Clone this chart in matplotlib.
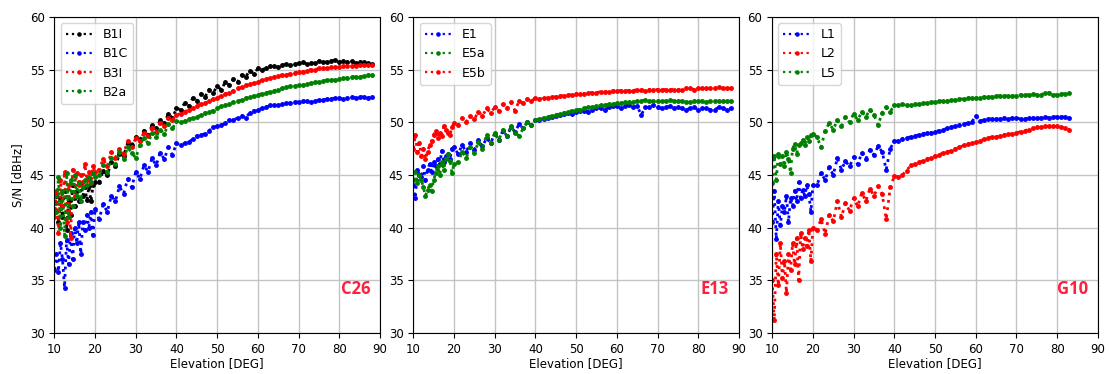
import matplotlib
matplotlib.use("Agg")
import matplotlib.pyplot as plt

# elevation grids [deg]: half-degree steps at low elevation where the noise is large
elev_fine = [10, 10.5, 11, 11.5, 12, 12.5, 13, 13.5, 14, 14.5, 15, 15.5, 16, 16.5,
             17, 17.5, 18, 18.5, 19, 19.5, 20]
elev_c26 = elev_fine + list(range(21, 89))
elev_e13 = elev_c26
elev_g10 = elev_fine + list(range(21, 84))

# C26 (BeiDou) S/N [dBHz]
b1i = [41.5, 43.0, 40.5, 42.8, 41.0, 43.5, 39.8, 42.5, 41.2, 44.0, 42.0, 43.5, 42.5, 44.2,
       43.0, 43.8, 42.6, 43.9, 42.5, 44.0, 44.3,
       44.3, 45.4, 45.0, 46.2, 45.8, 47.0, 46.8, 48.0, 47.8, 48.6, 48.3, 49.2, 48.8, 49.7,
       49.4, 50.2, 49.9, 50.8, 50.4, 51.3,
       51.2, 51.8, 51.5, 52.3, 52.0, 52.7, 52.4, 53.1, 52.8, 53.4, 53.1, 53.8, 53.5, 54.1,
       53.8, 54.5, 54.3, 54.9, 54.6, 55.1, 55.0, 55.1, 55.3, 55.3, 55.2, 55.4, 55.5, 55.4,
       55.5, 55.6, 55.7, 55.5, 55.6, 55.6, 55.8, 55.7, 55.7, 55.8, 55.9, 55.7, 55.8, 55.7,
       55.8, 55.6, 55.7, 55.7, 55.6, 55.5]
b1c = [36.0, 37.5, 35.8, 38.5, 37.0, 34.3, 38.8, 36.5, 39.5, 37.0, 40.0, 38.5, 40.5, 37.5,
       40.5, 39.8, 41.2, 40.0, 41.5, 39.3, 41.8,
       40.8, 42.2, 41.5, 43.0, 42.5, 43.9, 43.2, 44.6, 43.8, 45.3, 44.6, 45.9, 45.3, 46.6,
       45.9, 47.1, 46.5, 47.6, 46.9, 48.0,
       47.8, 48.0, 48.1, 48.4, 48.7, 48.8, 48.9, 49.2, 49.5, 49.6, 49.7, 49.9, 50.2, 50.2,
       50.4, 50.6, 50.4, 50.9, 51.1, 51.2, 51.3, 51.4, 51.6, 51.6, 51.6, 51.7, 51.8, 51.8,
       51.9, 51.9, 52.0, 52.0, 51.9, 52.0, 52.1, 52.1, 52.2, 52.2, 52.3, 52.3, 52.2, 52.3,
       52.4, 52.3, 52.4, 52.4, 52.3, 52.4]
b3i = [41.0, 43.5, 39.5, 44.5, 42.0, 45.3, 40.5, 44.0, 39.0, 45.5, 43.0, 45.2, 44.0, 45.0,
       44.3, 46.0, 44.5, 45.3, 44.2, 45.8, 45.3,
       45.5, 46.5, 45.8, 47.2, 46.6, 47.5, 47.0, 48.2, 47.6, 48.5, 48.2, 49.0, 48.7, 49.4,
       49.1, 49.9, 49.6, 50.4, 50.2, 50.7,
       50.8, 51.0, 51.2, 51.3, 51.5, 51.7, 51.8, 52.0, 52.2, 52.3, 52.5, 52.7, 52.8, 53.0,
       53.2, 53.3, 53.5, 53.6, 53.7, 53.8, 54.0, 54.1, 54.2, 54.3, 54.4, 54.5, 54.5, 54.6,
       54.7, 54.8, 54.8, 54.9, 55.0, 55.0, 55.1, 55.1, 55.1, 55.2, 55.2, 55.2, 55.3, 55.3,
       55.3, 55.3, 55.4, 55.4, 55.4, 55.4]
b2a = [43.0, 41.5, 44.8, 40.0, 43.5, 39.2, 45.2, 41.0, 44.5, 42.0, 45.0, 43.0, 44.2, 42.5,
       43.8, 44.5, 44.0, 44.8, 44.3, 45.2, 44.8,
       45.0, 45.9, 45.3, 46.6, 46.0, 47.2, 46.5, 47.6, 47.1, 46.6, 47.8, 48.5, 48.0, 49.0,
       48.6, 49.3, 48.9, 49.8, 49.4, 50.1,
       50.0, 50.1, 50.3, 50.4, 50.5, 50.7, 50.9, 51.0, 51.1, 51.3, 51.5, 51.6, 51.7, 51.9,
       52.0, 52.1, 52.3, 52.4, 52.5, 52.6, 52.7, 52.8, 52.9, 53.0, 53.1, 53.2, 53.3, 53.4,
       53.4, 53.5, 53.5, 53.6, 53.7, 53.8, 53.8, 53.9, 54.0, 54.0, 54.0, 54.1, 54.2, 54.2,
       54.3, 54.3, 54.3, 54.4, 54.5, 54.5]

# E13 (Galileo)
e1 = [44.0, 42.8, 45.5, 45.0, 44.8, 45.8, 44.5, 45.5, 46.0, 45.3, 46.2, 45.8, 46.5, 46.0,
      47.3, 46.2, 46.8, 47.0, 46.5, 47.5, 47.6,
      47.0, 47.8, 47.2, 48.0, 47.4, 48.3, 47.7, 48.5, 48.0, 48.9, 48.3, 49.2, 48.7, 49.5,
      49.1, 49.8, 49.4, 50.0, 49.7, 50.2,
      50.2, 50.3, 50.4, 50.5, 50.6, 50.7, 50.8, 50.9, 50.8, 51.0, 51.1, 51.1, 51.0, 51.2,
      51.3, 51.3, 51.2, 51.4, 51.5, 51.5, 51.3, 51.5, 51.6, 51.4, 51.5, 50.7, 51.4, 51.4,
      51.6, 51.4, 51.3, 51.4, 51.5, 51.3, 51.4, 51.3, 51.2, 51.3, 51.4, 51.2, 51.3, 51.3,
      51.2, 51.2, 51.4, 51.3, 51.2, 51.3]
e5a = [44.5, 45.3, 44.2, 45.0, 44.5, 43.8, 43.0, 43.6, 44.0, 43.5, 44.5, 45.2, 45.8, 45.0,
       46.2, 45.5, 46.5, 47.0, 46.3, 45.2, 46.0,
       46.2, 47.2, 46.6, 47.6, 47.1, 48.1, 47.5, 48.8, 48.0, 49.0, 48.3, 49.3, 48.7, 49.6,
       49.0, 48.7, 49.4, 50.0, 49.7, 50.2,
       50.3, 50.4, 50.5, 50.6, 50.7, 50.8, 50.9, 51.0, 51.1, 51.2, 51.2, 51.3, 51.4, 51.4,
       51.5, 51.6, 51.6, 51.7, 51.7, 51.8, 51.8, 51.9, 51.9, 51.9, 52.0, 52.0, 52.1, 52.0,
       52.0, 52.0, 52.0, 52.0, 52.1, 52.0, 52.0, 52.0, 51.9, 51.9, 52.0, 52.0, 52.0, 51.9,
       52.0, 52.0, 52.0, 52.0, 52.0, 52.0]
e5b = [47.5, 48.8, 47.2, 48.0, 46.8, 47.5, 46.5, 47.2, 47.8, 48.2, 48.8, 49.2, 48.5, 49.0,
       48.7, 49.6, 49.3, 49.0, 48.8, 49.5, 49.9,
       49.7, 50.4, 50.0, 50.6, 50.3, 51.0, 50.6, 51.3, 50.9, 51.4, 51.1, 51.7, 51.3, 51.9,
       51.1, 52.0, 51.8, 52.2, 52.0, 52.3,
       52.2, 52.3, 52.3, 52.4, 52.4, 52.5, 52.5, 52.6, 52.6, 52.7, 52.7, 52.7, 52.8, 52.8,
       52.8, 52.9, 52.9, 52.9, 53.0, 53.0, 53.0, 53.0, 53.0, 53.0, 53.1, 53.1, 53.0, 53.1,
       53.1, 53.1, 53.1, 53.1, 53.1, 53.1, 53.1, 53.1, 53.2, 53.2, 53.1, 53.2, 53.2, 53.2,
       53.2, 53.2, 53.3, 53.2, 53.2, 53.2]

# G10 (GPS)
l1 = [40.5, 43.5, 38.9, 42.5, 40.2, 42.0, 41.5, 43.0, 40.5, 42.8, 42.0, 43.5, 42.5, 44.3,
      42.8, 43.6, 43.0, 44.0, 43.2, 41.5, 44.0,
      44.0, 45.2, 44.5, 45.7, 45.0, 46.6, 45.5, 46.3, 45.8, 46.7, 46.0, 47.1, 46.5, 47.4,
      46.9, 47.7, 47.2, 45.5, 47.5, 48.2,
      48.2, 48.4, 48.5, 48.6, 48.7, 48.8, 48.9, 49.0, 49.0, 49.1, 49.2, 49.3, 49.4, 49.5,
      49.6, 49.7, 49.8, 49.9, 50.0, 50.6, 50.1, 50.2, 50.3, 50.3, 50.3, 50.3, 50.4, 50.3,
      50.4, 50.4, 50.3, 50.3, 50.4, 50.4, 50.4, 50.4, 50.5, 50.4, 50.5, 50.5, 50.5, 50.5,
      50.4]
l2 = [35.0, 31.2, 37.5, 34.5, 38.5, 35.2, 36.8, 33.8, 37.5, 36.0, 38.5, 36.5, 39.0, 35.0,
      39.5, 38.0, 39.0, 38.2, 39.8, 36.8, 40.0,
      39.8, 40.8, 39.4, 41.2, 40.6, 42.5, 41.0, 42.3, 41.6, 42.8, 42.0, 43.3, 42.5, 43.7,
      43.0, 43.9, 43.2, 40.8, 43.8, 44.9,
      44.8, 45.0, 45.4, 45.9, 46.0, 46.2, 46.3, 46.5, 46.6, 46.8, 46.9, 47.1, 47.2, 47.3,
      47.5, 47.6, 47.8, 47.9, 48.0, 48.1, 48.2, 48.4, 48.5, 48.6, 48.6, 48.7, 48.8, 48.9,
      48.9, 49.0, 49.1, 49.2, 49.3, 49.4, 49.5, 49.5, 49.6, 49.6, 49.6, 49.6, 49.5, 49.4,
      49.3]
l5 = [44.2, 46.8, 44.5, 47.0, 46.0, 46.8, 45.8, 47.2, 46.5, 45.2, 47.5, 47.9, 47.0, 47.8,
      48.0, 48.3, 47.8, 48.6, 48.2, 48.8, 48.9,
      48.6, 47.6, 49.2, 49.9, 49.3, 50.2, 49.6, 50.5, 50.0, 50.8, 50.2, 51.0, 50.5, 51.2,
      50.7, 49.7, 50.9, 51.4, 51.0, 51.6,
      51.6, 51.7, 51.6, 51.6, 51.7, 51.7, 51.8, 51.8, 51.9, 51.9, 52.0, 52.0, 52.0, 52.1,
      52.1, 52.2, 52.2, 52.3, 52.3, 52.3, 52.3, 52.4, 52.4, 52.4, 52.5, 52.5, 52.5, 52.5,
      52.5, 52.5, 52.6, 52.6, 52.6, 52.7, 52.6, 52.6, 52.8, 52.8, 52.6, 52.6, 52.7, 52.7,
      52.8]

panels = [
    ("C26", elev_c26, [("B1I", b1i, "k"), ("B1C", b1c, "b"), ("B3I", b3i, "r"), ("B2a", b2a, "g")]),
    ("E13", elev_e13, [("E1", e1, "b"), ("E5a", e5a, "g"), ("E5b", e5b, "r")]),
    ("G10", elev_g10, [("L1", l1, "b"), ("L2", l2, "r"), ("L5", l5, "g")]),
]

fig, axes = plt.subplots(1, 3, figsize=(11.09, 3.74), dpi=100)
fig.subplots_adjust(left=0.049, right=0.990, bottom=0.110, top=0.955, wspace=0.102)

for ax, (sat, elev, sigs) in zip(axes, panels):
    for name, snr, col in sigs:
        ax.plot(elev, snr, ':', marker='.', ms=5, lw=2.0, color=col, label=name)
    ax.set_xlim(10, 90)
    ax.set_ylim(30, 60)
    ax.set_xticks(range(10, 91, 10))
    ax.set_yticks(range(30, 61, 5))
    ax.tick_params(labelsize=8.5)
    ax.grid(True, color='#c4c4c4', lw=1.0)
    ax.set_axisbelow(True)
    ax.set_xlabel('Elevation [DEG]', fontsize=8.5, labelpad=1)
    leg = ax.legend(loc='upper left', fontsize=9, handlelength=2.2)
    for h in leg.legend_handles:
        h.set_linewidth(1.6)
        h.set_markersize(4.5)
    ax.text(0.97, 0.14, sat, transform=ax.transAxes, ha='right', va='center',
            fontsize=12, fontweight='bold', family='Open Sans', color='#ff1f3f')

axes[0].set_ylabel('S/N [dBHz]', fontsize=8.5)

plt.savefig('out.png', dpi=100)
